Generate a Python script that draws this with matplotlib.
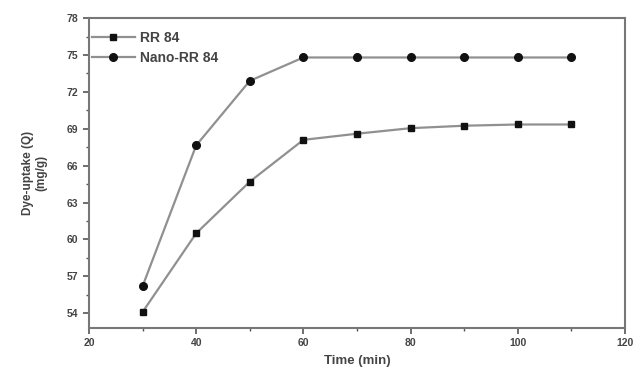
"""Dye uptake vs time for RR 84 and Nano-RR 84."""

import matplotlib
matplotlib.use("Agg")
import matplotlib.pyplot as plt
from matplotlib.ticker import MultipleLocator

# --- Datos ---
time_min = [30, 40, 50, 60, 70, 80, 90, 100, 110]
rr84 = [54.1, 60.5, 64.7, 68.1, 68.6, 69.05, 69.25, 69.35, 69.35]
nano_rr84 = [56.2, 67.65, 72.9, 74.8, 74.8, 74.8, 74.8, 74.8, 74.8]
x_ticks = [20, 40, 60, 80, 100, 120]
y_ticks = [54, 57, 60, 63, 66, 69, 72, 75, 78]

plt.rcParams["font.family"] = ["Liberation Sans", "DejaVu Sans"]
plt.rcParams["font.weight"] = "bold"

fig = plt.figure(figsize=(6.37, 3.70), dpi=100)
ax = fig.add_axes([0.1397, 0.1135, 0.8413, 0.8375])

line_color = "#909090"
ax.plot(time_min, rr84, color=line_color, lw=1.6, marker="s", ms=5,
        mfc="#111111", mec="#111111", label="RR 84")
ax.plot(time_min, nano_rr84, color=line_color, lw=1.6, marker="o", ms=5.5,
        mfc="#111111", mec="#111111", label="Nano-RR 84")

ax.set_xlim(20, 120)
ax.set_ylim(52.8, 78)
ax.set_xticks(x_ticks)
ax.set_yticks(y_ticks)
ax.xaxis.set_minor_locator(MultipleLocator(10))
ax.yaxis.set_minor_locator(MultipleLocator(1.5))
ax.tick_params(which="both", direction="out", colors="#555555",
               labelcolor="#444444", labelsize=7.5)
ax.tick_params(which="major", length=4, width=1.2)
ax.tick_params(which="minor", length=2, width=1)
for spine in ax.spines.values():
    spine.set_color("#777777")
    spine.set_linewidth(1.5)

ax.set_xlabel("Time (min)", fontsize=9.5, fontweight="bold", color="#444444",
              labelpad=5)
ax.set_ylabel("Dye-uptake (Q)\n(mg/g)", fontsize=8.5, fontweight="bold",
              color="#444444", labelpad=14)

leg = ax.legend(loc="upper left", frameon=False, fontsize=10,
                handlelength=3.1, borderaxespad=0, borderpad=0,
                labelspacing=0.45, handletextpad=0.35,
                bbox_to_anchor=(0.005, 0.96))
for text in leg.get_texts():
    text.set_color("#444444")

fig.savefig("out.png", dpi=100)
